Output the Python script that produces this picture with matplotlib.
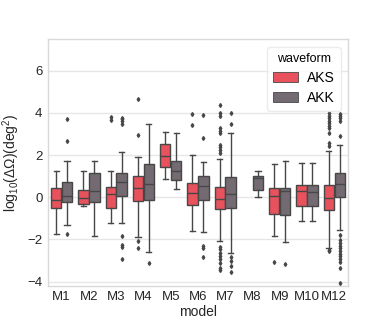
import numpy as np
import matplotlib
matplotlib.use("Agg")
from matplotlib import pyplot as plt
from matplotlib.patches import Patch

models = ["M1", "M2", "M3", "M4", "M5", "M6", "M7", "M8", "M9", "M10", "M12"]
waveforms = ["AKS", "AKK"]

# box stats, one entry per model (None = no data)
aks_q1 = [-0.49, -0.33, -0.49, -0.17, 1.43, -0.35, -0.56, None, -0.80, -0.42, -0.61]
aks_med = [-0.12, -0.01, 0.15, 0.43, 1.97, 0.21, -0.09, None, 0.08, 0.29, -0.04]
aks_q3 = [0.46, 0.35, 0.48, 1.02, 2.55, 0.67, 0.48, None, 0.46, 0.57, 0.57]
aks_lo = [-1.75, -0.41, -1.22, -1.88, 0.86, -1.60, -2.08, None, -1.86, -1.13, -2.40]
aks_hi = [1.27, 1.24, 1.24, 1.90, 3.10, 2.00, 1.81, None, 1.57, 1.62, 2.22]
aks_fliers = [
    [],
    [],
    [3.80, 3.65],
    [4.66, 2.96, -2.08, -2.39],
    [],
    [3.93, 3.42],
    [4.40, 3.99, 3.86, 3.28, 3.15, 3.04, 2.49, 2.38, 2.25, 2.12,
     -2.34, -2.46, -2.62, -2.78, -2.94, -3.13, -3.37, -3.45],
    None,
    [-3.08],
    [],
    [3.99, 3.88, 3.75, 3.64, 3.52, 3.40, 3.28, 3.04, 2.58, 2.45, -2.50, -2.55],
]

akk_q1 = [-0.22, -0.23, 0.08, -0.12, 0.81, -0.11, -0.52, 0.35, -0.84, -0.42, 0.02]
akk_med = [0.08, 0.32, 0.73, 0.62, 1.25, 0.54, 0.15, 0.92, 0.32, 0.27, 0.62]
akk_q3 = [0.73, 1.17, 1.17, 1.57, 1.73, 1.00, 0.95, 1.02, 0.46, 0.57, 1.17]
akk_lo = [-1.33, -1.85, -1.24, -2.58, 0.40, -1.67, -2.62, 0.02, -2.10, -1.13, -1.53]
akk_hi = [1.71, 1.71, 2.14, 3.47, 3.07, 1.67, 3.06, 1.24, 1.70, 1.62, 2.49]
akk_fliers = [
    [3.72, 2.68, -1.75],
    [],
    [3.75, 3.70, 3.60, 3.50, -1.86, -2.26, -2.35, -2.94],
    [-3.10],
    [],
    [3.90, 2.82, -2.30, -2.40, -2.84],
    [3.99, 3.48, -2.81, -3.00, -3.26, -3.56],
    [],
    [-3.15],
    [],
    [3.96, 3.85, 3.75, 3.60, 2.91, -1.80, -2.02, -2.15, -2.30, -2.42, -2.55,
     -2.68, -2.80, -2.92, -3.05, -3.37, -4.08],
]

colors = {"AKS": "#e8525c", "AKK": "#736a72"}
edge = "#474747"

plt.rcParams["font.family"] = ["Liberation Sans", "DejaVu Sans"]
plt.rcParams["mathtext.fontset"] = "custom"
plt.rcParams["mathtext.rm"] = "Liberation Sans"
plt.rcParams["mathtext.it"] = "Liberation Sans"

fig = plt.figure(figsize=(3.87, 3.27), dpi=100)
ax = fig.add_axes([0.124, 0.126, 0.775, 0.754])


def make_stats(q1, med, q3, lo, hi, fliers):
    stats, pos = [], []
    for i in range(len(models)):
        if med[i] is None:
            continue
        stats.append(dict(q1=q1[i], med=med[i], q3=q3[i], whislo=lo[i],
                          whishi=hi[i], fliers=np.array(fliers[i])))
        pos.append(i)
    return stats, np.array(pos, dtype=float)


series = {
    "AKS": make_stats(aks_q1, aks_med, aks_q3, aks_lo, aks_hi, aks_fliers),
    "AKK": make_stats(akk_q1, akk_med, akk_q3, akk_lo, akk_hi, akk_fliers),
}
offsets = {"AKS": -0.2, "AKK": 0.2}

for name in waveforms:
    stats, pos = series[name]
    ax.bxp(stats, positions=pos + offsets[name], widths=0.38, patch_artist=True,
           boxprops=dict(facecolor=colors[name], edgecolor=edge, linewidth=1.0),
           medianprops=dict(color=edge, linewidth=1.0),
           whiskerprops=dict(color=edge, linewidth=1.0),
           capprops=dict(color=edge, linewidth=1.0),
           flierprops=dict(marker="d", markersize=2.0, markerfacecolor=edge,
                           markeredgecolor=edge),
           manage_ticks=False, zorder=3)

ax.set_xlim(-0.5, len(models) - 0.5)
ax.set_ylim(-4.2, 7.5)
ax.set_xticks(range(len(models)))
ax.set_xticklabels(models)
ax.set_yticks([-4, -2, 0, 2, 4, 6])
ax.tick_params(length=0, labelsize=9.5, colors="#262626", pad=4)
ax.yaxis.grid(True, color="#e6e6e6", linewidth=1.0, zorder=0)
ax.set_axisbelow(True)
for s in ax.spines.values():
    s.set_color("#d9d9d9")
    s.set_linewidth(1.0)

ax.set_xlabel("model", fontsize=10, color="#262626", labelpad=1)
ax.set_ylabel(r"log$_{10}$($\Delta\Omega$)(deg$^2$)", fontsize=10, color="#262626",
              labelpad=4)

handles = [Patch(facecolor=colors[n], edgecolor=edge, linewidth=0.6, label=n) for n in waveforms]
leg = ax.legend(handles=handles, title="waveform", loc="upper right", fontsize=10,
                title_fontsize=9, frameon=True, borderpad=0.4, handlelength=1.8,
                handleheight=0.75, labelspacing=0.45, handletextpad=0.7,
                borderaxespad=0.3, bbox_to_anchor=(0.99, 0.985))
leg.get_frame().set_edgecolor("#e6e6e6")

fig.savefig("out.png", dpi=100)
